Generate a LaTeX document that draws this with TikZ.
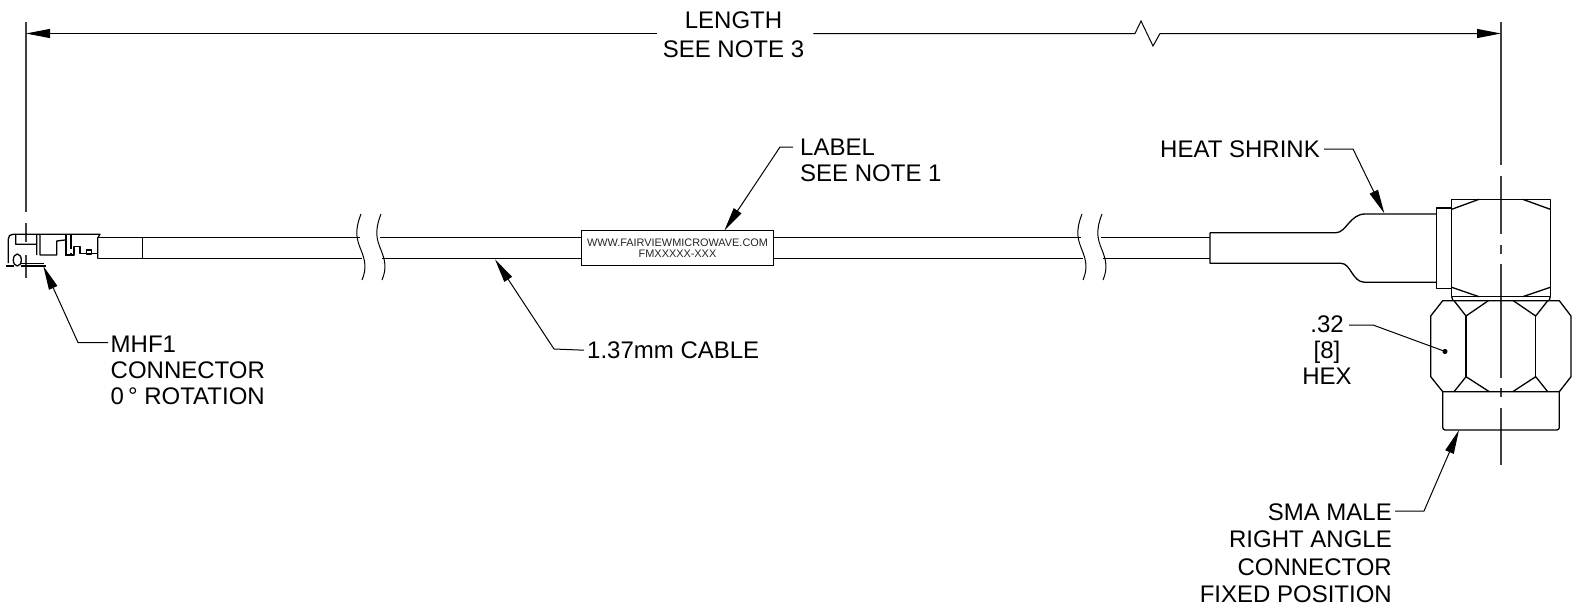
\documentclass[tikz,border=0pt]{standalone}
\usepackage{fontspec}
\setmainfont{Liberation Sans}
\usetikzlibrary{arrows.meta}
\tikzset{
  x=1pt,y=-1pt,
  part/.style={line width=1.3pt,line join=round},
  thin part/.style={line width=1pt,line join=round},
  axis/.style={line width=1.3pt,black!75},
  leader/.style={line width=1pt,-{Triangle[length=24pt,width=9pt]}},
  dotleader/.style={line width=1pt,-{Circle[length=5pt]}},
  lbl/.style={inner sep=0pt,font=\fontsize{24}{26}\selectfont,text=black},
  labelbox/.style={draw,line width=1.3pt,fill=white,minimum width=192.4pt,minimum height=34.6pt,inner sep=0pt,align=center,font=\fontsize{10.9}{12}\selectfont,text=black!85},
}
\begin{document}
\begin{tikzpicture}
\useasboundingbox (0,0) rectangle (1579,605);
% named points
\coordinate (dl) at (26,33.5);
\coordinate (dr) at (1501,33.5);
% axes
\draw[axis] (26,22) -- (26,212) (26,223) -- (26,242) (26,255) -- (26,278);
\draw[axis] (1501,22) -- (1501,165) (1501,176) -- (1501,234) (1501,245) -- (1501,254) (1501,264) -- (1501,378) (1501,388) -- (1501,397) (1501,408) -- (1501,465);
% cable
\draw[part] (97.7,237.7) -- (360,237.7) (380,237.7) -- (1081,237.7) (1101,237.7) -- (1210,237.7);
\draw[part] (97.7,258.7) -- (362,258.7) (382,258.7) -- (1083,258.7) (1103,258.7) -- (1210,258.7);
\draw[part] (142.7,237.7) -- (142.7,258.7);
% break lines
\foreach \dx in {0,20,721,741} {
  \draw[thin part] (361+\dx,214) .. controls (354+\dx,232) and (357+\dx,240) .. (361+\dx,250) .. controls (365+\dx,260) and (367+\dx,268) .. (362+\dx,280);
}
% label
\node[labelbox] (lb) at (677.5,248) {WWW.FAIRVIEWMICROWAVE.COM\\[-1pt]FMXXXXX-XXX};
% heat shrink
\draw[part] (1210,232.7) -- (1336,232.7) .. controls (1346,232.7) and (1350,214) .. (1365,214) -- (1436.7,214)
  (1210,232.7) -- (1210,263.3) -- (1341,263.3) .. controls (1351,263.3) and (1352,282.3) .. (1365,282.3) -- (1436.7,282.3);
% right angle connector
\draw[part] (1436.7,208) rectangle (1451.7,288.7);
\draw[part] (1451.7,199.3) rectangle (1550.3,296.7);
\draw[part] (1451.7,209.3) -- (1479,199.3) (1522.7,199.3) -- (1550.3,209.3)
  (1451.7,287.3) -- (1479,296.7) (1522.7,296.7) -- (1550.3,287.3)
  (1451.7,296.7) -- (1453,300.7) (1550.3,296.7) -- (1549,300.7);
% hex
\draw[part] (1442.7,300.7) -- (1430.7,316) -- (1430.7,376.7) -- (1442.7,391.7) -- (1559.3,391.7) -- (1571,376.7) -- (1571,316) -- (1559.3,300.7) -- cycle;
\draw[part] (1466,316) -- (1466,376.7) (1535.7,316) -- (1535.7,376.7);
\draw[part] (1454,300.7) -- (1466,316) -- (1488.3,300.7) (1513.3,300.7) -- (1535.7,316) -- (1547.7,300.7)
  (1454,391.7) -- (1466,376.7) -- (1489.3,391.7) (1512.7,391.7) -- (1535.7,376.7) -- (1547.7,391.7);
% ferrule
\draw[part,rounded corners=2.5pt] (1442.7,391.7) -- (1442.7,430) -- (1559.3,430) -- (1559.3,391.7);
% MHF1 connector
\draw[part] (8.3,263) -- (8.3,239) .. controls (8.3,236) and (10,234.3) .. (13,234.3) -- (100,234.3) -- (97.7,238) -- (97.7,258.7);
\draw[part] (15.7,235) -- (15.7,244.3) -- (36.7,244.3) (36.7,234.3) -- (36.7,255) (40,234.3) -- (40,255) -- (56.7,255) -- (56.7,241) -- (65,240);
\draw[line width=2.6pt] (66,234.3) -- (66,255) (71,234.3) -- (71,255);
\draw[part] (65,255) -- (74,255) -- (74,246.7) -- (80,246.7) -- (80,253.3) -- (97.7,253.3);
\draw[fill=white,draw=none] (67.5,248.5) rectangle (73,253);
\draw[part] (86.7,250) rectangle (91.7,254);
\draw[line width=2.4pt] (6,265.7) -- (14,265.7);
\draw[line width=2.2pt] (20.7,265.7) -- (46,265.7);
\draw[line width=.9pt] (21,263.2) -- (44,263.2);
\draw[part] (17.3,260) circle[x radius=4pt,y radius=6pt];
% leaders
\coordinate (tl) at (724.3,230.7);
\coordinate (tc) at (495,259.3);
\coordinate (tm) at (43.3,266);
\coordinate (th) at (1384.3,213.3);
\coordinate (ts) at (1459,430);
\coordinate (td) at (1447.3,352.3);
% dimension
\node[lbl,align=center] (len) at (733.5,35) {LENGTH\\[3pt]SEE NOTE 3};
\draw[line width=1pt,-{Triangle[length=24pt,width=9pt]}] (len.west) ++(-6,-1.5) -- (dl);
\draw[line width=1pt,-{Triangle[length=24pt,width=9pt]}] (len.east) ++(9,-1.5) -- (1135,33.5) -- (1141,21) -- (1153,46) -- (1160,33.5) -- (dr);
% texts and leaders
\node[lbl,align=left,anchor=north west] (t1) at (800,138.5) {LABEL\\SEE NOTE 1};
\draw[leader] (793,147) coordinate (c1) -- (780,147) -- (tl);
\node[lbl,align=left,anchor=north west] (t2) at (587,341.5) {1.37mm CABLE};
\draw[leader] (t2.west) ++(-3,0) -- (554,349) -- (tc);
\node[lbl,align=left,anchor=north west] (t3) at (110.5,336) {MHF1\\CONNECTOR\\0\,°\ ROTATION};
\draw[leader] (108,342.5) coordinate (c3) -- (78,342.5) -- (tm);
\node[lbl,anchor=north east] (t4) at (1320,140.5) {HEAT SHRINK};
\draw[leader] (t4.east) ++(4,0) -- (1353,149) -- (th);
\node[lbl,align=center,anchor=north] (t5) at (1327,316) {.32\\{[8]}\\HEX};
\draw[dotleader] (1349,325) coordinate (c5) -- (1373,325) -- (td);
\node[lbl,align=right,anchor=north east,font=\fontsize{24}{27.5}\selectfont] (t6) at (1392,503.5) {SMA MALE\\RIGHT ANGLE\\CONNECTOR\\FIXED POSITION};
\draw[leader] (1395,511) coordinate (c6) -- (1424,511) -- (ts);
\end{tikzpicture}
\end{document}
